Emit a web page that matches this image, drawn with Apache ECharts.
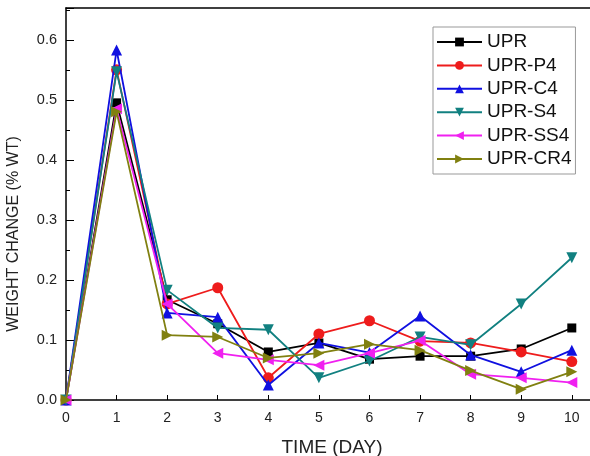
<!DOCTYPE html>
<html>
<head>
<meta charset="utf-8">
<script src="https://cdn.jsdelivr.net/npm/echarts@6/dist/echarts.min.js"></script>
<style>
  html, body { margin: 0; padding: 0; background: #fff; }
  #chart { width: 590px; height: 456px; }
</style>
</head>
<body>
<div id="chart"></div>
<script>
// 数据
var days = [0, 1, 2, 3, 4, 5, 6, 7, 8, 9, 10];
var upr   = [0, 0.495, 0.167, 0.127, 0.080, 0.095, 0.068, 0.073, 0.073, 0.085, 0.120];
var uprP4 = [0, 0.550, 0.160, 0.187, 0.037, 0.110, 0.132, 0.098, 0.095, 0.080, 0.064];
var uprC4 = [0, 0.583, 0.145, 0.138, 0.025, 0.095, 0.079, 0.140, 0.075, 0.047, 0.083];
var uprS4 = [0, 0.547, 0.183, 0.120, 0.117, 0.037, 0.065, 0.105, 0.092, 0.160, 0.237];
var uprSS4 = [0, 0.485, 0.160, 0.078, 0.067, 0.058, 0.078, 0.099, 0.043, 0.037, 0.029];
var uprCR4 = [0, 0.480, 0.108, 0.105, 0.070, 0.078, 0.093, 0.083, 0.049, 0.018, 0.047];
var names = ['UPR', 'UPR-P4', 'UPR-C4', 'UPR-S4', 'UPR-SS4', 'UPR-CR4'];
var colors = ['#000000', '#ee1c1c', '#1010e0', '#118080', '#f020f0', '#808010'];
var symbols = ['rect', 'circle', 'triangle', 'triangle', 'triangle', 'triangle'];
var rotates = [0, 0, 0, 180, 90, -90];
var values = [upr, uprP4, uprC4, uprS4, uprSS4, uprCR4];

var font = 'Liberation Sans, Arial, sans-serif';

var myChart = echarts.init(document.getElementById('chart'));

var series = [];
for (var i = 0; i < names.length; i++) {
    var pts = [];
    for (var j = 0; j < days.length; j++) {
        pts.push([days[j], values[i][j]]);
    }
    series.push({
        name: names[i],
        type: 'line',
        data: pts,
        symbol: symbols[i],
        symbolSize: i === 0 ? 9 : 11,
        symbolRotate: rotates[i],
        showAllSymbol: true,
        lineStyle: { color: colors[i], width: 1.8 },
        itemStyle: { color: colors[i] },
        emphasis: { disabled: true },
        z: 2 + i
    });
}

var option = {
    animation: false,
    grid: { left: 66, top: 8, right: 0, bottom: 56, outerBoundsMode: 'none' },
    legend: {
        orient: 'vertical',
        left: 433,
        top: 27,
        data: names,
        itemWidth: 45,
        itemHeight: 11,
        itemGap: 3.4,
        padding: [5, 4, 5, 3],
        borderColor: '#999',
        borderWidth: 1,
        textStyle: { fontFamily: font, fontSize: 19, color: '#111', lineHeight: 20 }
    },
    xAxis: [{
        type: 'value',
        min: 0,
        max: 10.36,
        interval: 1,
        name: 'TIME (DAY)',
        nameLocation: 'middle',
        nameGap: 38,
        nameTextStyle: { fontFamily: font, fontSize: 19, color: '#222', padding: [0, 0, 0, 8] },
        axisLine: { lineStyle: { color: '#000', width: 1.5 } },
        axisTick: { inside: true, length: 5, lineStyle: { color: '#000' } },
        axisLabel: { fontFamily: font, fontSize: 14, color: '#222', margin: 11, showMaxLabel: false },
        splitLine: { show: false }
    }, {
        type: 'value',
        position: 'top',
        min: 0,
        max: 10.36,
        axisLine: { show: true, lineStyle: { color: '#000', width: 1.5 } },
        axisTick: { show: false },
        axisLabel: { show: false },
        splitLine: { show: false }
    }],
    yAxis: {
        type: 'value',
        min: 0,
        max: 0.653,
        interval: 0.1,
        name: 'WEIGHT CHANGE (% WT)',
        nameLocation: 'middle',
        nameGap: 44,
        nameTextStyle: { fontFamily: font, fontSize: 16, color: '#222', padding: [0, 60, 0, 0] },
        axisLine: { show: true, lineStyle: { color: '#000', width: 1.5 } },
        axisTick: { inside: true, length: 8, lineStyle: { color: '#000' } },
        minorTick: { show: true, splitNumber: 2, length: 4, lineStyle: { color: '#000' } },
        axisLabel: {
            fontFamily: font, fontSize: 14.5, color: '#222', margin: 9, showMaxLabel: false,
            formatter: function (v) { return v.toFixed(1); }
        },
        splitLine: { show: false }
    },
    series: series
};

myChart.setOption(option);
</script>
</body>
</html>
